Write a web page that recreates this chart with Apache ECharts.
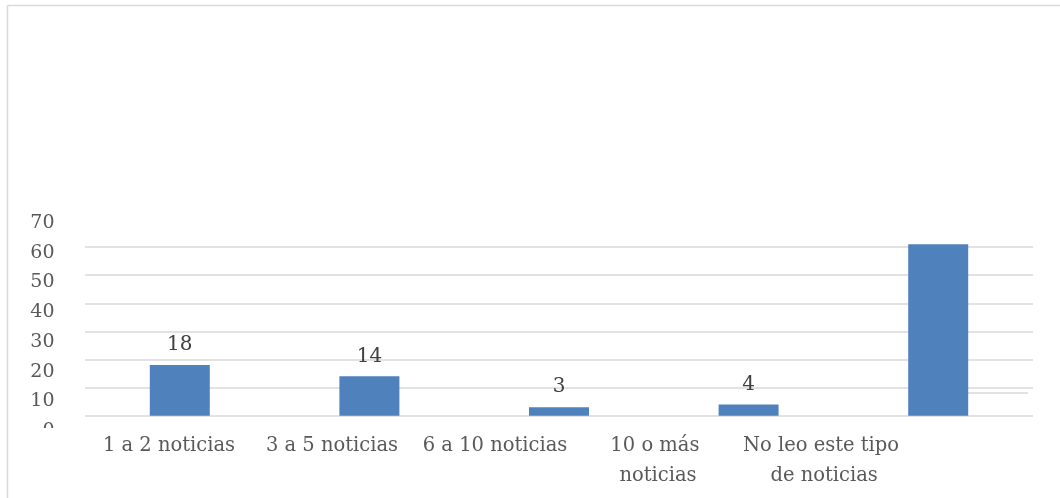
<!DOCTYPE html>
<html>
<head>
<meta charset="utf-8">
<script src="https://cdn.jsdelivr.net/npm/echarts@6/dist/echarts.min.js"></script>
<style>html,body{margin:0;padding:0;background:#fff}#c{width:1060px;height:498px}</style>
</head>
<body>
<div id="c"></div>
<script>
var categories = ['1 a 2 noticias', '3 a 5 noticias', '6 a 10 noticias', '10 o más noticias', 'No leo este tipo de noticias'];
var values = [18, 14, 3, 4, 61];
var showValueLabel = [true, true, true, true, false];
var yTicks = [0, 10, 20, 30, 40, 50, 60, 70];

var FONT = 'DejaVu Serif';
var chart = echarts.init(document.getElementById('c'), null, {renderer: 'canvas'});
chart.setOption({
  animation: false,
  backgroundColor: '#ffffff',
  graphic: [
    {type: 'line', shape: {x1: 7.5, y1: 5.5, x2: 1060, y2: 5.5}, style: {stroke: '#d9d9d9', lineWidth: 1.5}, z: 10},
    {type: 'line', shape: {x1: 7.5, y1: 5.5, x2: 7.5, y2: 498}, style: {stroke: '#d9d9d9', lineWidth: 1.5}, z: 10},
    {type: 'rect', shape: {x: 20, y: 428, width: 55, height: 9}, style: {fill: '#ffffff'}, z: 100}
  ],
  grid: [
    {left: 85, right: 27, top: 219, bottom: 82.3},
    {left: 87.5, right: 157.5, top: 223, bottom: 67}
  ],
  xAxis: [
    {type: 'category', gridIndex: 0, data: categories,
     axisLine: {show: false}, axisTick: {show: false}, axisLabel: {show: false}},
    {type: 'category', gridIndex: 1, data: categories,
     axisLine: {show: false}, axisTick: {show: false},
     axisLabel: {show: true, interval: 0, margin: 0, color: '#595959', fontFamily: FONT, fontSize: 19.5,
       lineHeight: 30, width: 158, overflow: 'break'}}
  ],
  yAxis: [
    {type: 'value', gridIndex: 0, min: yTicks[0], max: yTicks[yTicks.length - 1], interval: 10,
     axisLine: {show: false}, axisTick: {show: false}, axisLabel: {show: false},
     splitLine: {show: true, showMaxLine: false, lineStyle: {color: '#d9d9d9', width: 1.5}}},
    {type: 'value', gridIndex: 1, min: yTicks[0], max: yTicks[yTicks.length - 1], interval: 10,
     axisLine: {show: false}, axisTick: {show: false}, splitLine: {show: false},
     axisLabel: {show: true, margin: 33, color: '#595959', fontFamily: FONT, fontSize: 19}}
  ],
  series: [
    {type: 'bar', xAxisIndex: 0, yAxisIndex: 0, barWidth: 60, z: 3,
     itemStyle: {color: '#4f81bd'},
     label: {show: true, position: 'top', distance: 10, color: '#404040', fontFamily: FONT, fontSize: 20},
     data: values.map(function (v, i) { return {value: v, label: {show: showValueLabel[i]}}; })},
    {type: 'line', xAxisIndex: 0, yAxisIndex: 0, data: [], z: 1, silent: true,
     markLine: {z: 1, symbol: 'none', silent: true, label: {show: false},
       lineStyle: {color: '#d9d9d9', width: 1.5, type: 'solid'},
       data: [[{coord: [4, 8]}, {x: 1028, y: 393}]]}},
    {type: 'bar', xAxisIndex: 1, yAxisIndex: 1, data: [], silent: true}
  ]
});
</script>
</body>
</html>
